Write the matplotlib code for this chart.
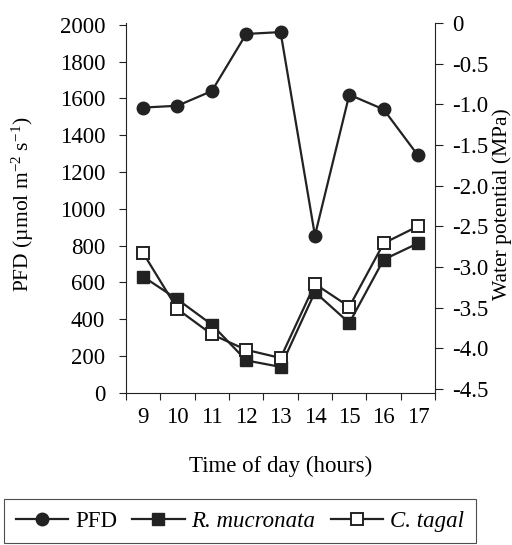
import matplotlib
matplotlib.use('Agg')
import matplotlib.pyplot as plt
from matplotlib.lines import Line2D

plt.rcParams['font.family'] = ['Liberation Serif', 'DejaVu Serif']
plt.rcParams['mathtext.fontset'] = 'custom'
plt.rcParams['mathtext.rm'] = 'Liberation Serif'
plt.rcParams['mathtext.it'] = 'Liberation Serif:italic'

# Diurnal course of light and leaf water potential
hours = ['9', '10', '11', '12', '13', '14', '15', '16', '17']
pfd = [1550, 1560, 1640, 1950, 1960, 855, 1620, 1540, 1290]
r_mucronata = [-3.12, -3.40, -3.71, -4.15, -4.23, -3.31, -3.69, -2.91, -2.71]
c_tagal = [-2.83, -3.52, -3.83, -4.02, -4.12, -3.21, -3.49, -2.71, -2.50]

ink = '#222222'
fs = 16.5
lw = 1.6

fig = plt.figure(figsize=(5.12, 5.45), dpi=100)
ax = fig.add_axes([0.246, 0.279, 0.604, 0.679])
ax2 = ax.twinx()

x = list(range(len(hours)))
ax.plot(x, pfd, '-o', color=ink, lw=lw, ms=9, zorder=3)
ax2.plot(x, r_mucronata, '-s', color=ink, lw=lw, ms=8, mfc=ink, mec=ink)
ax2.plot(x, c_tagal, '-s', color=ink, lw=lw, ms=8, mfc='white', mec=ink, mew=1.4)

ax.set_xlim(-0.5, len(hours) - 0.5)
ax.set_ylim(0, 2010)
ax2.set_ylim(-4.55, -0.03)

ax.set_yticks(range(0, 2001, 200))
ax2.set_yticks([0, -0.5, -1.0, -1.5, -2.0, -2.5, -3.0, -3.5, -4.0, -4.5])
ax2.set_yticklabels(['0', '-0.5', '-1.0', '-1.5', '-2.0', '-2.5', '-3.0',
                     '-3.5', '-4.0', '-4.5'])

# category labels centred, tick marks on the boundaries
ax.set_xticks(x)
ax.set_xticklabels(hours)
ax.set_xticks([i - 0.5 for i in range(len(hours) + 1)], minor=True)
ax.tick_params(axis='x', which='major', length=0, pad=10, labelsize=fs)
ax.tick_params(axis='x', which='minor', length=5, width=0.8, color=ink, direction='out')
ax.tick_params(axis='y', length=5, width=0.8, color=ink, pad=10, labelsize=fs)
ax2.tick_params(axis='y', length=6, width=0.8, color=ink, pad=6, labelsize=fs)

for a in (ax, ax2):
    a.spines['top'].set_visible(False)
    for s in ('left', 'right', 'bottom'):
        a.spines[s].set_color(ink)
        a.spines[s].set_linewidth(0.8)
ax.spines['right'].set_visible(False)
ax2.spines['left'].set_visible(False)
ax2.spines['bottom'].set_visible(False)

lab_fs = 15.5
ax.set_ylabel(r'PFD (µmol m$^{-2}$ s$^{-1}$)', fontsize=lab_fs)
ax.yaxis.set_label_coords(-0.29, 0.51)
ax2.set_ylabel('Water potential (MPa)', fontsize=lab_fs, rotation=90)
ax2.yaxis.set_label_coords(1.183, 0.51)
ax.set_xlabel('Time of day (hours)', fontsize=fs)
ax.xaxis.set_label_coords(0.5, -0.17)

handles = [
    Line2D([], [], color=ink, lw=lw, marker='o', ms=9),
    Line2D([], [], color=ink, lw=lw, marker='s', ms=8, mfc=ink),
    Line2D([], [], color=ink, lw=lw, marker='s', ms=8, mfc='white', mew=1.4),
]
leg = fig.legend(handles, ['PFD', 'R. mucronata', 'C. tagal'], ncol=3,
                 loc='center left', bbox_to_anchor=(0.008, 0.044),
                 fontsize=fs, fancybox=False, frameon=True,
                 handlelength=2.3, handletextpad=0.3, columnspacing=0.65,
                 borderpad=0.5, borderaxespad=0)
leg.get_frame().set_edgecolor(ink)
leg.get_frame().set_linewidth(0.8)
for t in leg.get_texts()[1:]:
    t.set_style('italic')

fig.savefig('out.png', dpi=100)
